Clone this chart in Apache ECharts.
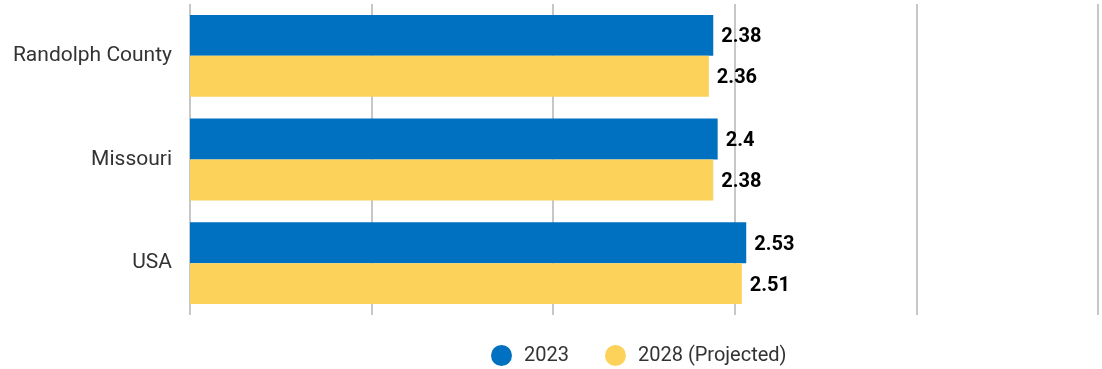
<!DOCTYPE html>
<html>
<head>
<meta charset="utf-8">
<script src="https://cdn.jsdelivr.net/npm/echarts@6/dist/echarts.min.js"></script>
<style>
  html, body { margin: 0; padding: 0; background: #fff; }
  #chart { width: 1102px; height: 369px; }
</style>
</head>
<body>
<div id="chart"></div>
<script>
// Regions compared
const categories = ['Randolph County', 'Missouri', 'USA'];
// Average household size per region
const values2023 = [2.38, 2.4, 2.53];
const values2028 = [2.36, 2.38, 2.51];
const seriesNames = ['2023', '2028 (Projected)'];

const chart = echarts.init(document.getElementById('chart'), null, { renderer: 'canvas' });

const labelStyle = {
  show: true,
  position: 'right',
  distance: 8,
  offset: [0, 2],
  color: '#000',
  fontFamily: 'Roboto',
  fontWeight: 'bold',
  fontSize: 20
};

chart.setOption({
  animation: false,
  textStyle: { fontFamily: 'Roboto' },
  grid: { left: 190, right: 4, top: 4, bottom: 54, containLabel: false },
  legend: {
    data: seriesNames,
    left: 491,
    top: 345,
    padding: 0,
    icon: 'circle',
    itemWidth: 21,
    itemHeight: 21,
    itemGap: 36,
    textStyle: { fontSize: 20, color: '#333', fontFamily: 'Roboto', padding: [0, 0, 0, 7] }
  },
  xAxis: {
    type: 'value',
    min: 0,
    max: 4.13,
    interval: 0.826,
    axisLabel: { show: false },
    axisLine: { show: false },
    axisTick: { show: false },
    splitLine: { show: true, lineStyle: { color: '#b5b5b5', width: 1.5 } }
  },
  yAxis: {
    type: 'category',
    data: categories,
    inverse: true,
    axisLine: { show: false },
    axisTick: { show: false },
    axisLabel: { color: '#333', fontSize: 21, fontFamily: 'Roboto', margin: 18 }
  },
  series: [
    {
      name: seriesNames[0],
      type: 'bar',
      data: values2023,
      barGap: '0%',
      barCategoryGap: '21%',
      itemStyle: { color: '#0070c0' },
      label: labelStyle
    },
    {
      name: seriesNames[1],
      type: 'bar',
      data: values2028,
      itemStyle: { color: '#fcd25a' },
      label: labelStyle
    }
  ]
});
</script>
</body>
</html>
